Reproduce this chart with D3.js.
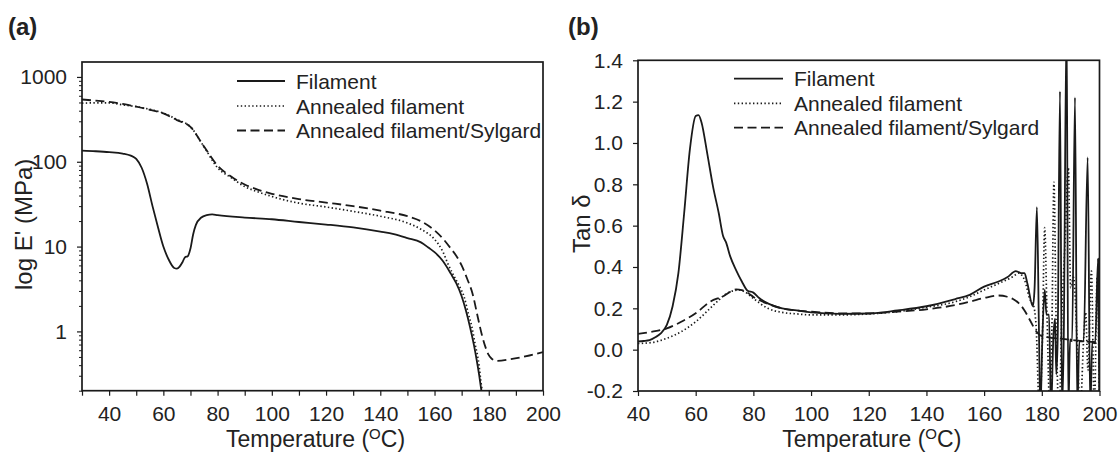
<!DOCTYPE html>
<html>
<head>
<meta charset="utf-8">
<script src="https://cdn.jsdelivr.net/npm/d3@7"></script>
<style>
  html, body { margin: 0; padding: 0; background: #fff; }
  svg text { font-family: "Liberation Sans", Arial, Helvetica, sans-serif; fill: #222; }
</style>
</head>
<body>
<svg id="chart" width="1118" height="452"></svg>
<script>
// ---------------- Panel (a): log E' (MPa) ----------------
const aFilTemp = [30,35,40,45,48,50,52,54,56,58,60,62,64,65,66,67,68,69,70,71,72,74,76,78,80,90,100,110,120,130,140,145,150,155,158,160,163,166,168,170,171.5,173,174.5,175.5,176.5,177.3,177.8];
const aFilMod  = [135,133,130,125,118,108,85,55,30,17,10,7,5.6,5.5,5.8,6.5,7.5,7.7,9.5,14,18,22,23.5,24,23.5,22,21,19.5,18.2,16.8,15,14,12.6,11.2,9.6,8.6,6.8,4.8,3.7,2.6,1.8,1.16,0.7,0.47,0.3,0.2,0.17];

const aAnnTemp = [30,35,40,45,50,55,60,65,70,75,80,85,90,95,100,110,120,130,140,150,155,160,163,165,167,169,171,172.5,173.7,175,176.1,177.3,177.9];
const aAnnMod  = [490,495,495,470,447,415,375,315,258,150,85,65,51,44,39,32.5,29.3,26,22.8,19,16,12.2,8.8,6.2,4.6,3.5,2.5,1.6,1.16,0.7,0.47,0.23,0.17];

const aSylTemp = [30,35,40,45,50,55,60,65,70,75,80,85,90,95,100,110,120,130,140,150,155,160,163,166,168,170,172,174,176,177.5,178.6,179.8,181,183,188,195,200];
const aSylMod  = [542,525,507,480,447,410,371,310,258,151,90,67,54,46.7,41.9,36.3,33,30,26.5,22.8,19.9,15.5,12.5,9.5,7.8,6.0,4.2,2.8,1.45,0.9,0.68,0.54,0.48,0.45,0.47,0.52,0.57];

const aXTicks = [30,40,50,60,70,80,90,100,110,120,130,140,150,160,170,180,190,200];
const aXLabels = [40,60,80,100,120,140,160,180,200];
const aYMajor = [1,10,100,1000];
const aYMinor = [0.2,0.3,0.4,0.5,0.6,0.7,0.8,0.9,2,3,4,5,6,7,8,9,20,30,40,50,60,70,80,90,200,300,400,500,600,700,800,900];

// ---------------- Panel (b): Tan delta ----------------
const bFilTemp = [40,42,44,46,48,50,52,54,56,58,60,61,62,64,66,68,69.5,70.5,72,74,76,78,80,82,85,90,95,100,110,120,130,140,150,155,160,165,168,171,172,173,174,175,176.9,177.5,178.3,179.0,179.5,180.2,181.0,181.6,182.5,183.2,184.0,184.6,185.0,185.5,186.3,187.0,187.6,188.6,189.2,189.8,190.5,191.5,192.3,193.0,194.5,195.9,196.8,197.5,198.5,199.5,200];
const bFilTan  = [0.04,0.042,0.046,0.06,0.08,0.12,0.21,0.37,0.66,0.97,1.13,1.135,1.10,0.95,0.79,0.66,0.55,0.52,0.45,0.385,0.33,0.285,0.276,0.25,0.224,0.2,0.19,0.18,0.173,0.175,0.19,0.21,0.245,0.265,0.305,0.33,0.35,0.38,0.375,0.37,0.37,0.32,0.21,0.30,0.69,0.10,-0.30,0.06,0.29,0.17,0.17,-0.30,0.06,0.15,-0.12,0.05,1.25,-0.30,0.05,1.60,-0.30,0.05,0.04,1.22,-0.30,0.04,0.04,0.93,-0.30,0.04,0.03,0.44,-0.30];

const bAnnTemp = [40,45,50,55,60,65,68,70,72,75,77,80,85,90,95,100,110,120,130,140,150,155,160,165,170,172,174,176,177,178,179.2,180.2,181.0,181.8,182.8,183.5,184.2,185.0,186.0,187.0,188.0,189.2,190.0,191.0,192.2,193.3,194.5,195.2,196.0,197.2,198.2,199.2,200];
const bAnnTan  = [0.03,0.035,0.055,0.087,0.135,0.2,0.24,0.265,0.28,0.289,0.28,0.248,0.2,0.18,0.173,0.168,0.168,0.173,0.184,0.205,0.232,0.256,0.289,0.32,0.353,0.37,0.337,0.24,0.22,0.12,-0.30,0.05,0.59,0.17,-0.30,0.10,0.81,0.10,-0.30,0.20,0.50,0.88,0.30,0.35,0.06,-0.30,0.05,0.18,-0.10,0.38,-0.30,0.35,-0.30];

const bSylTemp = [40,45,50,55,60,65,70,72,74,76,78,80,85,90,100,110,120,130,140,150,155,160,165,168,170,172,174,176,178,180,185,190,195,200];
const bSylTan  = [0.076,0.087,0.103,0.135,0.176,0.232,0.262,0.28,0.292,0.288,0.275,0.255,0.222,0.2,0.184,0.176,0.176,0.184,0.195,0.216,0.232,0.25,0.262,0.256,0.245,0.225,0.19,0.14,0.09,0.065,0.055,0.048,0.04,0.035];

const bXTicks = [40,60,80,100,120,140,160,180,200];
const bYTicks = [-0.2,0,0.2,0.4,0.6,0.8,1.0,1.2,1.4];

const legendNames = ["Filament","Annealed filament","Annealed filament/Sylgard"];
const styles = [
  {dash: null, width: 1.8},
  {dash: "1.4,2.4", width: 1.7},
  {dash: "9,4.5", width: 1.8}
];

// ---------------- Drawing ----------------
const svg = d3.select("#chart");
svg.append("rect").attr("width",1118).attr("height",452).attr("fill","#fff");
const ink = "#1a1a1a";
const FONT = '"Liberation Sans", Arial, sans-serif';

function zipSeries(t, v) { return t.map((d,i) => [d, v[i]]); }

function panel(opts) {
  const g = svg.append("g");
  const {x, y, id} = opts;
  const [x0, x1] = x.range();
  const [y0, y1] = y.range(); // y0 bottom, y1 top
  g.append("clipPath").attr("id", id).append("rect")
    .attr("x", x0).attr("y", y1).attr("width", x1 - x0).attr("height", y0 - y1);

  const line = d3.line().x(d => x(d[0])).y(d => y(d[1])).curve(d3.curveMonotoneX);
  const lg = g.append("g").attr("clip-path", `url(#${id})`);
  opts.series.forEach((s, i) => {
    lg.append("path").datum(s)
      .attr("d", line)
      .attr("fill","none")
      .attr("stroke", ink)
      .attr("stroke-width", styles[i].width)
      .attr("stroke-dasharray", styles[i].dash)
      .attr("stroke-linejoin","round");
  });

  // frame
  g.append("rect").attr("x", x0).attr("y", y1).attr("width", x1 - x0).attr("height", y0 - y1)
    .attr("fill","none").attr("stroke", ink).attr("stroke-width", 1.7);

  // x axis
  const xa = g.append("g").attr("transform", `translate(0,${y0})`)
    .call(d3.axisBottom(x).tickValues(opts.xTicks).tickSize(5).tickSizeOuter(0).tickPadding(10)
      .tickFormat(d => opts.xLabels.includes(d) ? d : ""));
  xa.select(".domain").remove();
  xa.selectAll("line").attr("stroke", ink).attr("stroke-width", 1.2);
  xa.selectAll("text").style("font-size","21px").style("font-family", FONT).attr("fill","#222");

  // y axis
  if (opts.yMinor) {
    const ym = g.append("g").attr("transform", `translate(${x0},0)`)
      .call(d3.axisLeft(y).tickValues(opts.yMinor).tickSize(3).tickSizeOuter(0).tickFormat(""));
    ym.select(".domain").remove();
    ym.selectAll("line").attr("stroke", ink).attr("stroke-width", 1);
  }
  const ya = g.append("g").attr("transform", `translate(${x0},0)`)
    .call(d3.axisLeft(y).tickValues(opts.yTicks).tickSize(5).tickSizeOuter(0).tickPadding(10)
      .tickFormat(opts.yFormat));
  ya.select(".domain").remove();
  ya.selectAll("line").attr("stroke", ink).attr("stroke-width", 1.2);
  ya.selectAll("text").style("font-size","21px").style("font-family", FONT).attr("fill","#222");

  // x title
  const xt = g.append("text").attr("x", (x0 + x1) / 2 + 3).attr("y", 447)
    .attr("text-anchor","middle").style("font-size","23px");
  xt.append("tspan").text("Temperature (");
  xt.append("tspan").text("O").style("font-size","15px").attr("dy","-8");
  xt.append("tspan").text("C)").attr("dy","8");

  // y title
  g.append("text").attr("transform", `translate(${opts.yTitleX},${(y0 + y1) / 2 - 2}) rotate(-90)`)
    .attr("text-anchor","middle").style("font-size","24px").text(opts.yTitle);

  // panel letter
  g.append("text").attr("x", opts.letterX).attr("y", 35)
    .style("font-size","24px").style("font-weight","bold").text(opts.letter);

  // legend
  opts.legendRows.forEach((ly, i) => {
    g.append("line").attr("x1", opts.legendX[0]).attr("x2", opts.legendX[1])
      .attr("y1", ly).attr("y2", ly)
      .attr("stroke", ink).attr("stroke-width", styles[i].width)
      .attr("stroke-dasharray", styles[i].dash);
    g.append("text").attr("x", opts.legendX[2]).attr("y", ly + 7.5)
      .style("font-size","21px").text(legendNames[i]);
  });
}

panel({
  id: "clipA",
  x: d3.scaleLinear([30,200],[82,543]),
  y: d3.scaleLog([0.2,1500],[390.7,62]),
  series: [zipSeries(aFilTemp,aFilMod), zipSeries(aAnnTemp,aAnnMod), zipSeries(aSylTemp,aSylMod)],
  xTicks: aXTicks, xLabels: aXLabels,
  yTicks: aYMajor, yMinor: aYMinor, yFormat: d => String(d),
  yTitle: "log E' (MPa)", yTitleX: 32,
  letter: "(a)", letterX: 8,
  legendRows: [81, 106, 130.5], legendX: [237, 285, 296]
});

panel({
  id: "clipB",
  x: d3.scaleLinear([40,200],[638,1099.5]),
  y: d3.scaleLinear([-0.2,1.4],[391,60.3]),
  series: [zipSeries(bFilTemp,bFilTan), zipSeries(bAnnTemp,bAnnTan), zipSeries(bSylTemp,bSylTan)],
  xTicks: bXTicks, xLabels: bXTicks,
  yTicks: bYTicks, yMinor: null, yFormat: d => d.toFixed(1),
  yTitle: "Tan δ", yTitleX: 590,
  letter: "(b)", letterX: 568,
  legendRows: [78.7, 103.3, 127.7], legendX: [734, 783, 794]
});
</script>
</body>
</html>
